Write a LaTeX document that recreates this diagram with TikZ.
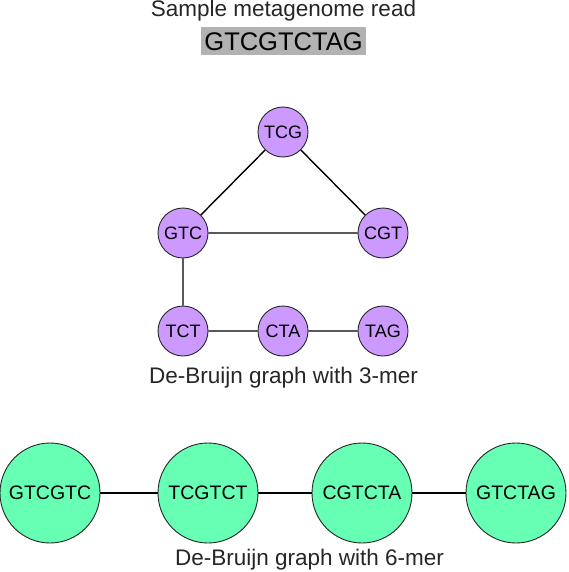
\documentclass[tikz,border=0pt]{standalone}
\usepackage{fontspec}
\setmainfont{Liberation Sans}
\usetikzlibrary{positioning}
\definecolor{kmerpurple}{HTML}{CC99FF}
\definecolor{kmergreen}{HTML}{66FFB3}
\tikzset{
x=1pt, y=-1pt, % one unit is one pixel of the page, y runs downwards
kmer/.style={circle, draw=black!85, line width=0.9pt, fill=kmerpurple, minimum size=50pt, inner sep=0pt, font=\fontsize{18}{18}\selectfont}, % nodes of the 3-mer graph
bigkmer/.style={circle, draw=black!85, line width=0.9pt, fill=kmergreen, minimum size=100pt, inner sep=0pt, font=\fontsize{19.5}{19.5}\selectfont}, % nodes of the 6-mer graph
caption/.style={anchor=base, inner sep=0pt, text=black!85, font=\fontsize{22.5}{22.5}\selectfont}, % texts under the graphs
link/.style={line width=1.4pt}, % undirected edges
}
\begin{document}
\begin{tikzpicture}
    \useasboundingbox (0,0) rectangle (568,572);

    \node[caption] (TITLE) at (283.5,17) {Sample metagenome read};
    \node[fill=black!30, minimum width=165pt, minimum height=28pt, inner sep=0pt,
          text height=19pt, text depth=0pt, font=\fontsize{25.5}{25.5}\selectfont] (READ) at (283.5,41) {GTCGTCTAG};

    % 3-mer graph
    \node[kmer] (TCG) at (283,132) {TCG};
    \node[kmer] (GTC) at (183,233) {GTC};
    \node[kmer] (CGT) at (383,233) {CGT};
    \node[kmer] (TCT) at (183,331) {TCT};
    \node[kmer] (CTA) at (283,331) {CTA};
    \node[kmer] (TAG) at (383,331) {TAG};
    \node[caption] (LABELa) at (283.5,383) {De-Bruijn graph with 3-mer};

    \draw[link] (TCG) -- (GTC)
                (TCG) -- (CGT)
                (GTC) -- (CGT)
                (GTC) -- (TCT)
                (TCT) -- (CTA)
                (CTA) -- (TAG);

    % 6-mer graph
    \node[bigkmer] (GTCGTC) at (50,493) {GTCGTC};
    \node[bigkmer] (TCGTCT) at (208,493) {TCGTCT};
    \node[bigkmer] (CGTCTA) at (362,493) {CGTCTA};
    \node[bigkmer] (GTCTAG) at (516,493) {GTCTAG};
    \node[caption] (LABELb) at (309.5,565) {De-Bruijn graph with 6-mer};

    \draw[link] (GTCGTC) -- (TCGTCT)
                (TCGTCT) -- (CGTCTA)
                (CGTCTA) -- (GTCTAG);
\end{tikzpicture}
\end{document}
